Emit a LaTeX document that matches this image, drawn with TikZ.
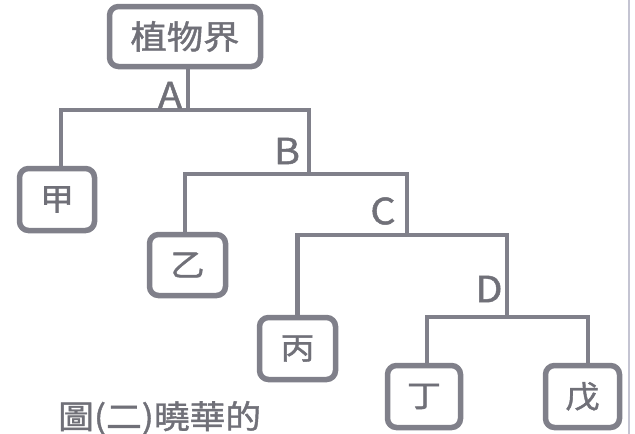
\documentclass[tikz,border=0pt]{standalone}
\usepackage{fontspec}
\usetikzlibrary{backgrounds}
\setmainfont{Noto Sans CJK TC}[FakeBold=1.3,FakeStretch=1.1]
\definecolor{linegray}{RGB}{128,128,138}
\definecolor{textgray}{RGB}{112,112,120}
\definecolor{edgegray}{RGB}{196,196,210}
\begin{document}
\begin{tikzpicture}[x=1pt,y=-1pt,
  box/.style={draw=linegray,line width=5.5pt,rounded corners=9pt,fill=white,
    text=textgray,inner sep=0pt,font=\fontsize{31}{31}\selectfont},
  conn/.style={draw=linegray,line width=4.5pt},
  lbl/.style={text=textgray,inner sep=0pt,font=\fontsize{36}{36}\selectfont}]
\useasboundingbox (0,0) rectangle (635,434);
% page edge of the scan
\draw[edgegray,line width=1.6pt] (629,0) -- (629,434);
% boxes
\node[box,minimum width=151pt,minimum height=60pt,font=\fontsize{33}{33}\selectfont] (root) at (185,36.5) {植物界};
\node[box,minimum width=75pt,minimum height=62pt] (jia) at (57,199.5) {甲};
\node[box,minimum width=76pt,minimum height=61pt] (yi) at (187.5,265) {乙};
\node[box,minimum width=76pt,minimum height=62pt] (bing) at (297.5,348.5) {丙};
\node[box,minimum width=73pt,minimum height=62pt] (ding) at (424,396.5) {丁};
\node[box,minimum width=74pt,minimum height=62pt] (wu) at (582.5,396.5) {戊};
% junctions
\coordinate (jA) at (188,110);
\coordinate (jB) at (309,174);
\coordinate (jC) at (407,235);
\coordinate (jD) at (507,317);
% connectors (behind the boxes)
\begin{pgfonlayer}{background}
\draw[conn] (root.south -| jA) -- (jA);
\draw[conn] (jA) -| ([xshift=4pt]jia.north);
\draw[conn] (jA) -| (jB);
\draw[conn] (jB) -| ([xshift=-2.5pt]yi.north);
\draw[conn] (jB) -| (jC);
\draw[conn] (jC) -| (bing.north);
\draw[conn] (jC) -| (jD);
\draw[conn] (jD) -| ([xshift=3pt]ding.north);
\draw[conn] (jD) -| ([xshift=5.5pt]wu.north);
\end{pgfonlayer}
% labels
\node[lbl] (la) at (170,95) {A};
\node[lbl] (lb) at (287,151) {B};
\node[lbl] (lc) at (383,211) {C};
\node[lbl] (ld) at (489,289) {D};
% caption
\node[text=textgray,anchor=west,inner sep=0pt,font=\fontsize{32.5}{32.5}\selectfont] (cap) at (58,418) {圖(二)曉華的};
\end{tikzpicture}
\end{document}
